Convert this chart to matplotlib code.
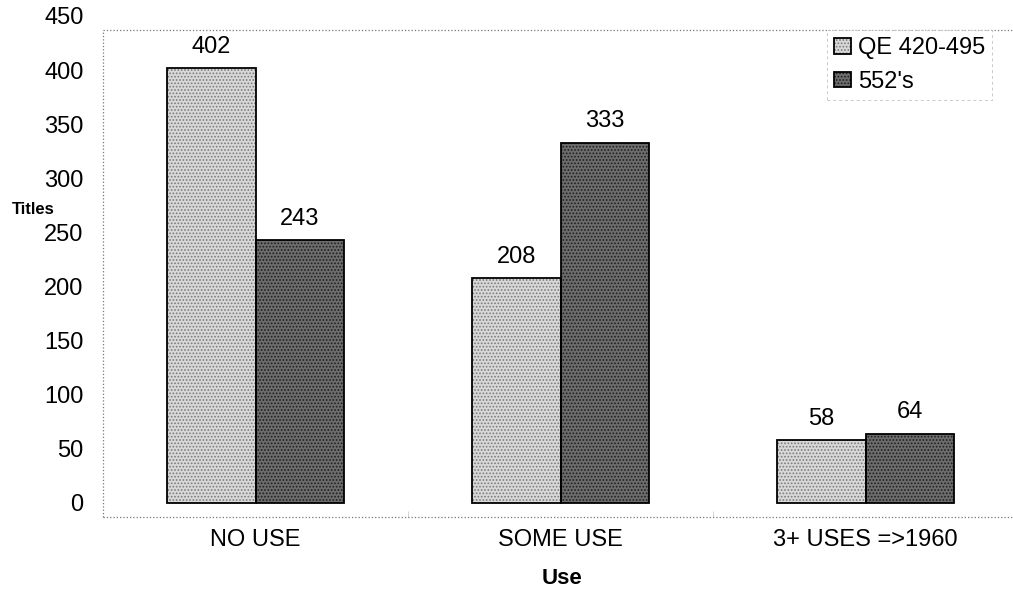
import numpy as np
import matplotlib
matplotlib.use("Agg")
import matplotlib.pyplot as plt

plt.rcParams['font.family'] = ['Liberation Sans', 'DejaVu Sans']
plt.rcParams['hatch.linewidth'] = 0.8

categories = ['NO USE', 'SOME USE', '3+ USES =>1960']
qe_420_495 = [402, 208, 58]
s552 = [243, 333, 64]
yticks = [0, 50, 100, 150, 200, 250, 300, 350, 400, 450]

fig = plt.figure(figsize=(10.13, 5.92), dpi=100)
ax = fig.add_axes([103/1013, 75/592, 915/1013, 501/592])

x = np.arange(len(categories))
w = 0.289

# dotted fill first, black outline on top
f1 = ax.bar(x - w/2, qe_420_495, w, color='#d8d8d8', hatch='.....',
            edgecolor='#7a7a7a', linewidth=0, zorder=2)
f2 = ax.bar(x + w/2, s552, w, color='#6c6c6c', hatch='.....',
            edgecolor='#1e1e1e', linewidth=0, zorder=2)
e1 = ax.bar(x - w/2, qe_420_495, w, fill=False, edgecolor='black',
            linewidth=1.3, zorder=3)
e2 = ax.bar(x + w/2, s552, w, fill=False, edgecolor='black',
            linewidth=1.3, zorder=3)

for xs, vals in [(x - w/2, qe_420_495), (x + w/2, s552)]:
    for xi, v in zip(xs, vals):
        ax.annotate(str(v), (xi, v), xytext=(0, 11), textcoords='offset points',
                    ha='center', va='baseline', fontsize=17)

ax.set_xlim(-0.5, 2.5)
ax.set_ylim(-13, 450)

# plot area frame (dotted)
fc = '#777777'
ax.plot([-0.5, 2.6], [-13, -13], ls=':', lw=0.9, color=fc, clip_on=False)
ax.plot([-0.5, 2.6], [437, 437], ls=':', lw=0.9, color=fc, clip_on=False)
ax.plot([-0.5, -0.5], [-13, 437], ls=':', lw=0.9, color=fc, clip_on=False)
for s in ax.spines.values():
    s.set_visible(False)

ax.set_yticks(yticks)
ax.tick_params(axis='y', length=0, pad=14, labelsize=17)
ax.set_xticks(x)
ax.set_xticklabels(categories)
ax.tick_params(axis='x', length=0, pad=9, labelsize=17)
ax.set_xticks([0.5, 1.5], minor=True)
ax.tick_params(axis='x', which='minor', direction='in', length=4,
               color='#cccccc', width=0.6)

ax.set_xlabel('Use', fontsize=16, fontweight='bold')
ax.xaxis.set_label_coords(0.5016, -0.122)
ax.xaxis.label.set_verticalalignment('center')
ax.set_ylabel('Titles', fontsize=12, fontweight='bold', rotation=0)
ax.yaxis.set_label_coords(-0.0765, 0.613)
ax.yaxis.label.set_verticalalignment('center')
ax.yaxis.label.set_horizontalalignment('center')

leg = ax.legend([(f1[0], e1[0]), (f2[0], e2[0])], ['QE 420-495', "552's"],
                loc='upper right', bbox_to_anchor=(992/1013, 1 - 30/592),
                bbox_transform=fig.transFigure, fontsize=17, fancybox=False,
                handlelength=0.7, handleheight=0.65, handletextpad=0.3,
                labelspacing=0.5, borderpad=0.3, borderaxespad=0)
leg.get_frame().set_edgecolor('#bbbbbb')
leg.get_frame().set_linestyle((0, (3, 3)))
leg.get_frame().set_linewidth(0.7)

fig.savefig('out.png', dpi=100, facecolor='white')
